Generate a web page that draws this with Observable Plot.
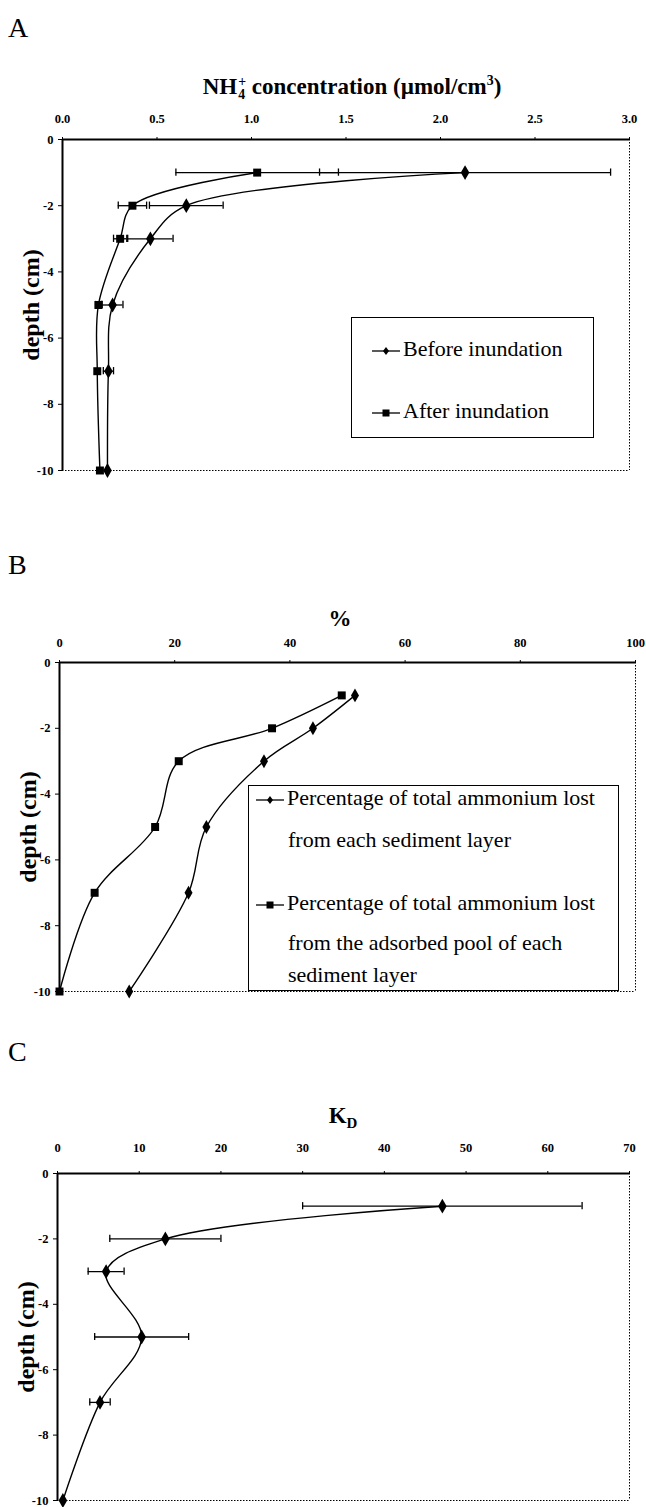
<!DOCTYPE html>
<html>
<head>
<meta charset="utf-8">
<script src="https://cdn.jsdelivr.net/npm/d3@7"></script>
<script src="https://cdn.jsdelivr.net/npm/@observablehq/plot@0.6"></script>
<style>
  html, body { margin: 0; padding: 0; background: #fff; }
  #root { position: relative; width: 646px; height: 1507px; overflow: hidden; font-family: "Liberation Serif", "Times New Roman", serif; color: #000; }
  .abs { position: absolute; white-space: nowrap; }
  .letter { font-size: 28px; line-height: 1; }
  .title { font-size: 23px; font-weight: bold; line-height: 1; transform: translate(-50%, -50%); }
  .legend { position: absolute; border: 1.5px solid #000; background: #fff; box-sizing: border-box; }
  .entry { position: absolute; font-size: 22px; line-height: 1; white-space: nowrap; }
  .entry svg { vertical-align: middle; margin-right: 3px; }
  sub, sup { font-size: 0.6em; line-height: 0; }
  .stack { display: inline-block; font-size: 0.6em; line-height: 0.9em; vertical-align: -0.35em; text-align: left; margin-left: 1px; }
</style>
</head>
<body>
<div id="root"></div>
<script>
// ---------- data ----------
const depths = [-1, -2, -3, -5, -7, -10];
const depthTicks = [0, -2, -4, -6, -8, -10];

// Panel A: NH4+ concentration (µmol/cm3)
const nh4Before = [2.13, 0.655, 0.465, 0.265, 0.243, 0.238];
const nh4BeforeErr = [0.77, 0.195, 0.12, 0.055, 0.027, 0];
const nh4After = [1.03, 0.37, 0.305, 0.19, 0.184, 0.198];
const nh4AfterErr = [0.43, 0.075, 0.035, 0.015, 0, 0];
const ticksA = [0, 0.5, 1, 1.5, 2, 2.5, 3];

// Panel B: % ammonium lost
const pctLayer = [51.3, 44.0, 35.5, 25.5, 22.4, 12.1];
const pctAdsorbed = [49.0, 36.9, 20.7, 16.6, 6.1, 0];
const ticksB = [0, 20, 40, 60, 80, 100];

// Panel C: KD
const kd = [47.1, 13.2, 5.95, 10.3, 5.2, 0.66];
const kdErr = [17.1, 6.8, 2.2, 5.75, 1.25, 0];
const ticksC = [0, 10, 20, 30, 40, 50, 60, 70];

// ---------- helpers ----------
const root = document.getElementById("root");
function rows(vals, errs) {
  return depths.map((d, i) => ({depth: d, v: vals[i], e: errs ? errs[i] : 0}));
}
function errMarks(data) {
  const withErr = data.filter(d => d.e > 0);
  const caps = withErr.flatMap(d => [{depth: d.depth, x: d.v - d.e}, {depth: d.depth, x: d.v + d.e}]);
  return [
    Plot.ruleY(withErr, {y: "depth", x1: d => d.v - d.e, x2: d => d.v + d.e, stroke: "#000", strokeWidth: 1.3}),
    Plot.ruleX(caps, {x: "x", y1: d => d.depth - 0.11, y2: d => d.depth + 0.11, stroke: "#000", strokeWidth: 1.3})
  ];
}
function panel({top, height, mL, mR, mT, mB, xDomain, xTicks, xFormat, labelPad, marks}) {
  const chart = Plot.plot({
    width: 646, height,
    marginLeft: mL, marginRight: mR, marginTop: mT, marginBottom: mB,
    style: {fontFamily: "'Liberation Serif', 'Times New Roman', serif", fontSize: "12.5px", fontWeight: "bold", background: "transparent", overflow: "visible"},
    x: {domain: xDomain, axis: null},
    y: {domain: [-10, 0], axis: null},
    marks: [
      Plot.ruleX([xDomain[1]], {stroke: "#000", strokeWidth: 1, strokeDasharray: "1.5,1.5"}),
      Plot.ruleY([-10], {stroke: "#000", strokeWidth: 1, strokeDasharray: "1.5,1.5"}),
      Plot.axisX({anchor: "top", ticks: xTicks, tickFormat: xFormat, tickSize: 3, tickPadding: labelPad, label: null, stroke: "#000", fill: "#000"}),
      Plot.axisY({anchor: "left", ticks: depthTicks, tickFormat: d => String(d), tickSize: 4, tickPadding: 5, label: null, stroke: "#000", fill: "#000"}),
      Plot.ruleY([0], {stroke: "#000", strokeWidth: 2}),
      Plot.ruleX([xDomain[0]], {stroke: "#000", strokeWidth: 2}),
      Plot.text(["depth (cm)"], {frameAnchor: "left", textAnchor: "middle", rotate: -90, dx: -31, fontSize: 24, fontWeight: "bold", fill: "#000"}),
      ...marks
    ]
  });
  chart.style.position = "absolute";
  chart.style.left = "0px";
  chart.style.top = top + "px";
  root.appendChild(chart);
}
function addHTML(html, cls, left, top, extraStyle = "") {
  const el = document.createElement("div");
  el.className = "abs " + cls;
  el.style.cssText += `left:${left}px;top:${top}px;${extraStyle}`;
  el.innerHTML = html;
  root.appendChild(el);
  return el;
}
const diamondSwatch = `<svg width="28" height="12"><line x1="0" y1="6" x2="28" y2="6" stroke="#000" stroke-width="1.3"/><path d="M14,2 L17,6 L14,10 L11,6 Z" fill="#000"/></svg>`;
const squareSwatch = `<svg width="28" height="12"><line x1="0" y1="6" x2="28" y2="6" stroke="#000" stroke-width="1.3"/><rect x="10.5" y="2.5" width="7" height="7" fill="#000"/></svg>`;

// ---------- Panel A ----------
const A1 = rows(nh4Before, nh4BeforeErr);
const A2 = rows(nh4After, nh4AfterErr);
addHTML("A", "letter", 8, 14);
addHTML("NH<span class='stack'>+<br>4</span> concentration (µmol/cm<sup>3</sup>)", "title", 352, 88);
panel({
  top: 100, height: 380, mL: 62, mR: 17, mT: 39, mB: 10, labelPad: 14,
  xDomain: [0, 3], xTicks: ticksA, xFormat: d3.format(".1f"),
  marks: [
    ...errMarks(A2), ...errMarks(A1),
    Plot.line(A2, {x: "v", y: "depth", curve: "catmull-rom", stroke: "#000", strokeWidth: 1.4}),
    Plot.line(A1, {x: "v", y: "depth", curve: "catmull-rom", stroke: "#000", strokeWidth: 1.4}),
    Plot.dot(A2, {x: "v", y: "depth", symbol: "square", r: 4.5, fill: "#000"}),
    Plot.dot(A1, {x: "v", y: "depth", symbol: "diamond", r: 4.5, fill: "#000"})
  ]
});
const legA = document.createElement("div");
legA.className = "legend";
legA.style.cssText = "left:351px;top:317px;width:243px;height:121px;";
root.appendChild(legA);
addHTML(diamondSwatch + "Before inundation", "entry", 372, 338);
addHTML(squareSwatch + "After inundation", "entry", 372, 400);

// ---------- Panel B ----------
const B1 = rows(pctLayer);
const B2 = rows(pctAdsorbed);
addHTML("B", "letter", 8, 551);
addHTML("%", "title", 340, 618);
panel({
  top: 625, height: 376, mL: 59, mR: 11, mT: 37, mB: 10, labelPad: 13,
  xDomain: [0, 100], xTicks: ticksB, xFormat: d => String(d),
  marks: [
    Plot.line(B2, {x: "v", y: "depth", curve: "catmull-rom", stroke: "#000", strokeWidth: 1.4}),
    Plot.line(B1, {x: "v", y: "depth", curve: "catmull-rom", stroke: "#000", strokeWidth: 1.4}),
    Plot.dot(B2, {x: "v", y: "depth", symbol: "square", r: 4.5, fill: "#000"}),
    Plot.dot(B1, {x: "v", y: "depth", symbol: "diamond", r: 4.2, fill: "#000"})
  ]
});
const legB = document.createElement("div");
legB.className = "legend";
legB.style.cssText = "left:248px;top:785px;width:371px;height:206px;";
root.appendChild(legB);
addHTML(diamondSwatch + "Percentage of total ammonium lost", "entry", 256, 787);
addHTML("from each sediment layer", "entry", 288, 829);
addHTML(squareSwatch + "Percentage of total ammonium lost", "entry", 256, 892);
addHTML("from the adsorbed pool of each", "entry", 288, 932);
addHTML("sediment layer", "entry", 288, 964);

// ---------- Panel C ----------
const C1 = rows(kd, kdErr);
addHTML("C", "letter", 8, 1038);
addHTML("K<sub style='font-size:0.65em'>D</sub>", "title", 343, 1115);
panel({
  top: 1130, height: 377, mL: 57, mR: 17, mT: 43, mB: 7, labelPad: 19,
  xDomain: [0, 70], xTicks: ticksC, xFormat: d => String(d),
  marks: [
    ...errMarks(C1),
    Plot.line(C1, {x: "v", y: "depth", curve: "catmull-rom", stroke: "#000", strokeWidth: 1.4}),
    Plot.dot(C1, {x: "v", y: "depth", symbol: "diamond", r: 4.5, fill: "#000"})
  ]
});
</script>
</body>
</html>
